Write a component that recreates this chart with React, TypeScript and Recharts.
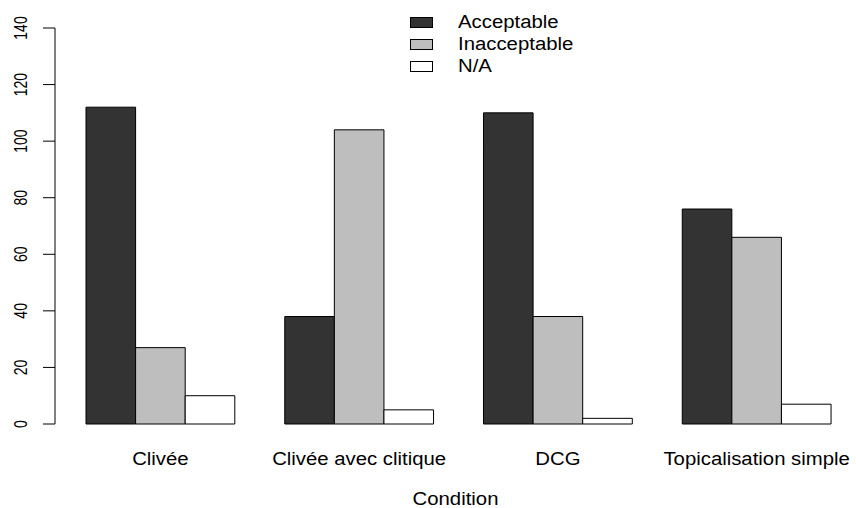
import { Bar, BarChart, Label, Legend, XAxis, YAxis } from "recharts";

const categories = ["Clivée", "Clivée avec clitique", "DCG", "Topicalisation simple"];
const acceptable = [112, 38, 110, 76];
const inacceptable = [27, 104, 38, 66];
const na = [10, 5, 2, 7];
const yTicks = [0, 20, 40, 60, 80, 100, 120, 140];

const seriesNames = ["Acceptable", "Inacceptable", "N/A"];
const seriesColors = ["#333333", "#bebebe", "#ffffff"];

const data = categories.map((name, i) => ({
  name,
  acceptable: acceptable[i],
  inacceptable: inacceptable[i],
  na: na[i],
}));

const FONT = '"Liberation Sans", Arial, Helvetica, sans-serif';
const STRETCH = 1.13;

const CategoryTick = (props: any) => {
  const { x, y, payload } = props;
  return (
    <text
      x={0}
      y={0}
      transform={`translate(${x},${y + 41}) scale(${STRETCH},1)`}
      textAnchor="middle"
      fontSize={18}
      fontFamily={FONT}
      fill="#000"
    >
      {payload.value}
    </text>
  );
};

// rotated labels: glyph height runs along screen x, so widen that direction
const ValueTick = (props: any) => {
  const { y, payload } = props;
  return (
    <text
      x={0}
      y={0}
      transform={`translate(27,${y}) rotate(-90) scale(1,1.35)`}
      textAnchor="middle"
      fontSize={14}
      fontFamily={FONT}
      fill="#000"
    >
      {payload.value}
    </text>
  );
};

const AxisTitle = (props: any) => {
  const { viewBox } = props;
  const cx = viewBox.x + viewBox.width / 2;
  return (
    <text
      x={0}
      y={0}
      transform={`translate(${cx},505) scale(${STRETCH},1)`}
      textAnchor="middle"
      fontSize={18}
      fontFamily={FONT}
      fill="#000"
    >
      Condition
    </text>
  );
};

const LegendBox = () => (
  <div style={{ fontFamily: FONT, fontSize: 18, color: "#000" }}>
    {seriesNames.map((name, i) => (
      <div key={name} style={{ display: "flex", alignItems: "center", height: 22 }}>
        <span
          style={{
            display: "inline-block",
            width: 21,
            height: 9,
            border: "1px solid #000",
            background: seriesColors[i],
          }}
        />
        <span
          style={{
            marginLeft: 25,
            display: "inline-block",
            transform: `scaleX(${STRETCH})`,
            transformOrigin: "left center",
            lineHeight: "22px",
          }}
        >
          {name}
        </span>
      </div>
    ))}
  </div>
);

export default function App() {
  return (
    <div style={{ position: "absolute", left: 0, top: 0, width: 856, height: 508, background: "#fff" }}>
      <BarChart
        width={856}
        height={508}
        data={data}
        margin={{ top: 28, right: 0, left: 0, bottom: 0 }}
        barGap={0}
        barSize={49.6}
        style={{ overflow: "visible" }}
      >
        <XAxis
          dataKey="name"
          axisLine={false}
          tickLine={false}
          tickSize={0}
          tickMargin={0}
          height={84}
          padding={{ left: 6, right: 0 }}
          tick={<CategoryTick />}
          interval={0}
        >
          <Label content={<AxisTitle />} />
        </XAxis>
        <YAxis
          domain={[0, 140]}
          ticks={yTicks}
          width={55}
          axisLine={{ stroke: "#000" }}
          tickLine={{ stroke: "#000" }}
          tickSize={12}
          tick={<ValueTick />}
          interval={0}
        />
        <Legend
          layout="vertical"
          align="center"
          verticalAlign="middle"
          wrapperStyle={{ position: "absolute", top: 11, left: 410, width: "auto" }}
          content={<LegendBox />}
        />
        <Bar dataKey="acceptable" name="Acceptable" fill={seriesColors[0]} stroke="#000" strokeWidth={1} isAnimationActive={false} />
        <Bar dataKey="inacceptable" name="Inacceptable" fill={seriesColors[1]} stroke="#000" strokeWidth={1} isAnimationActive={false} />
        <Bar dataKey="na" name="N/A" fill={seriesColors[2]} stroke="#000" strokeWidth={1} isAnimationActive={false} />
      </BarChart>
    </div>
  );
}
